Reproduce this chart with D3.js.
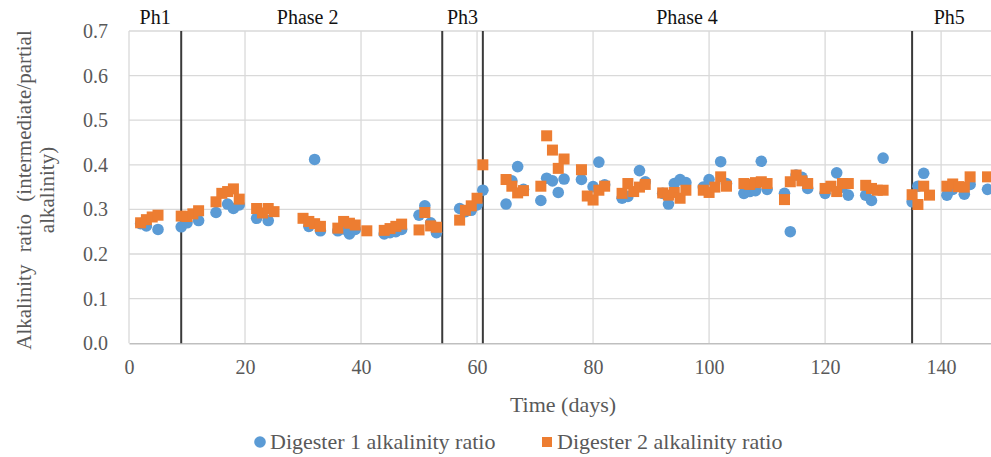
<!DOCTYPE html>
<html>
<head>
<meta charset="utf-8">
<script src="https://cdn.jsdelivr.net/npm/d3@7/dist/d3.min.js"></script>
<style>
  html, body { margin: 0; padding: 0; background: #fff; }
  svg { display: block; font-family: "Liberation Serif", "Times New Roman", serif; }
</style>
</head>
<body>
<svg id="chart" width="991" height="457"></svg>
<script>
// Digester 1 (circles)
const d1Days = [2, 3, 5, 9, 10, 12, 15, 17, 18, 19, 22, 24, 31, 32, 33, 36, 37, 38, 39,
  44, 45, 46, 47, 50, 51, 52, 53, 57, 58, 59, 60, 61, 65, 66, 67, 68, 71, 72, 73, 74, 75,
  78, 80, 81, 82, 85, 86, 88, 89, 92, 93, 94, 95, 96, 99, 100, 102, 103, 106, 107, 108,
  109, 110, 113, 114, 115, 116, 117, 120, 122, 123, 124, 127, 128, 130, 135, 136, 137,
  141, 142, 144, 145, 148];
const d1Ratio = [0.268, 0.263, 0.255, 0.261, 0.270, 0.275, 0.293, 0.312, 0.302, 0.310,
  0.280, 0.275, 0.262, 0.412, 0.252, 0.252, 0.256, 0.245, 0.255, 0.245, 0.248, 0.250,
  0.255, 0.287, 0.308, 0.270, 0.248, 0.302, 0.295, 0.298, 0.310, 0.343, 0.312, 0.364,
  0.396, 0.345, 0.320, 0.370, 0.364, 0.338, 0.368, 0.367, 0.351, 0.406, 0.355, 0.325,
  0.329, 0.387, 0.362, 0.336, 0.312, 0.358, 0.367, 0.360, 0.350, 0.367, 0.407, 0.358,
  0.336, 0.340, 0.342, 0.408, 0.345, 0.336, 0.250, 0.377, 0.372, 0.347, 0.336, 0.382,
  0.350, 0.332, 0.332, 0.320, 0.415, 0.317, 0.352, 0.381, 0.332, 0.345, 0.334, 0.356,
  0.345];

// Digester 2 (squares)
const d2Days = [2, 3, 4, 5, 9, 10, 11, 12, 15, 16, 17, 18, 19, 22, 23, 24, 25, 30, 31, 32,
  33, 36, 37, 38, 39, 41, 44, 45, 46, 47, 50, 51, 52, 53, 57, 58, 59, 60, 61, 65, 66, 67,
  68, 71, 72, 73, 74, 75, 78, 79, 80, 81, 82, 85, 86, 87, 88, 89, 92, 93, 94, 95, 96, 99,
  100, 101, 102, 103, 106, 107, 108, 109, 110, 113, 114, 115, 116, 117, 120, 121, 122,
  123, 124, 127, 128, 129, 130, 135, 136, 137, 138, 141, 142, 143, 144, 145, 148];
const d2Ratio = [0.270, 0.277, 0.283, 0.287, 0.285, 0.284, 0.290, 0.297, 0.317, 0.336,
  0.340, 0.346, 0.323, 0.302, 0.292, 0.302, 0.295, 0.280, 0.273, 0.268, 0.262, 0.258,
  0.273, 0.269, 0.265, 0.252, 0.253, 0.257, 0.262, 0.267, 0.254, 0.293, 0.263, 0.260,
  0.276, 0.298, 0.308, 0.325, 0.400, 0.367, 0.352, 0.337, 0.342, 0.352, 0.465, 0.433,
  0.392, 0.413, 0.389, 0.330, 0.321, 0.343, 0.352, 0.336, 0.358, 0.340, 0.350, 0.356,
  0.337, 0.332, 0.338, 0.325, 0.343, 0.343, 0.338, 0.350, 0.373, 0.352, 0.358, 0.356,
  0.360, 0.362, 0.358, 0.322, 0.362, 0.377, 0.364, 0.358, 0.347, 0.352, 0.340, 0.358,
  0.358, 0.354, 0.347, 0.343, 0.343, 0.333, 0.311, 0.352, 0.332, 0.352, 0.357, 0.351,
  0.350, 0.373, 0.373];

// Phase boundaries and labels
const phaseBounds = [9, 54, 61, 135];
const phaseNames = ["Ph1", "Phase 2", "Ph3", "Phase 4", "Ph5"];
const phaseLabelDays = [4.5, 30.8, 57.5, 96.2, 141.4];

const xTicks = [0, 20, 40, 60, 80, 100, 120, 140];
const yTicks = [0, 0.1, 0.2, 0.3, 0.4, 0.5, 0.6, 0.7];

const seriesNames = ["Digester 1 alkalinity ratio", "Digester 2 alkalinity ratio"];
const colors = ["#5B9BD5", "#ED7D31"];

const svg = d3.select("#chart");
const W = 991, H = 457;
const plotLeft = 129, plotTop = 31, plotBottom = 343.2;

const x = d3.scaleLinear().domain([0, 148.6]).range([plotLeft, W]);
const y = d3.scaleLinear().domain([0, 0.7]).range([plotBottom, plotTop]);

svg.append("rect").attr("width", W).attr("height", H).attr("fill", "#fff");

// gridlines
const grid = svg.append("g");
grid.selectAll("line.h").data(yTicks.filter(d => d > 0)).join("line")
  .attr("class", "h")
  .attr("x1", plotLeft).attr("x2", W)
  .attr("y1", d => y(d)).attr("y2", d => y(d))
  .attr("stroke", "#d9d9d9").attr("stroke-width", 1.3);
grid.selectAll("line.v").data(xTicks).join("line")
  .attr("class", "v")
  .attr("x1", d => x(d)).attr("x2", d => x(d))
  .attr("y1", plotTop).attr("y2", plotBottom)
  .attr("stroke", "#d9d9d9").attr("stroke-width", 1.3);

// x axis
const xAxis = svg.append("g")
  .attr("transform", `translate(0,${plotBottom})`)
  .call(d3.axisBottom(x).tickValues(xTicks).tickSize(0).tickPadding(17).tickFormat(d3.format("d")));
xAxis.select(".domain").attr("stroke", "#bfbfbf").attr("stroke-width", 1.5);
xAxis.selectAll("text").attr("font-size", 20).attr("fill", "#595959")
  .attr("font-family", "Liberation Serif, serif");

// y axis
const yAxis = svg.append("g")
  .attr("transform", `translate(${plotLeft},0)`)
  .call(d3.axisLeft(y).tickValues(yTicks).tickSize(0).tickPadding(21).tickFormat(d3.format(".1f")));
yAxis.select(".domain").remove();
yAxis.selectAll("text").attr("font-size", 20).attr("fill", "#595959")
  .attr("font-family", "Liberation Serif, serif");

// phase boundaries
svg.append("g").selectAll("line").data(phaseBounds).join("line")
  .attr("x1", d => x(d)).attr("x2", d => x(d))
  .attr("y1", plotTop).attr("y2", plotBottom)
  .attr("stroke", "#3a3a3a").attr("stroke-width", 2);

svg.append("g").selectAll("text").data(phaseNames).join("text")
  .attr("x", (d, i) => x(phaseLabelDays[i]))
  .attr("y", 24)
  .attr("text-anchor", "middle")
  .attr("font-size", 20)
  .attr("fill", "#111")
  .text(d => d);

// series 1: circles
const s1 = d1Days.map((d, i) => ({ day: d, v: d1Ratio[i] }));
svg.append("g").selectAll("circle").data(s1).join("circle")
  .attr("cx", d => x(d.day)).attr("cy", d => y(d.v))
  .attr("r", 5.8).attr("fill", colors[0]);

// series 2: squares
const s2 = d2Days.map((d, i) => ({ day: d, v: d2Ratio[i] }));
const sq = 11;
svg.append("g").selectAll("rect").data(s2).join("rect")
  .attr("x", d => x(d.day) - sq / 2).attr("y", d => y(d.v) - sq / 2)
  .attr("width", sq).attr("height", sq).attr("fill", colors[1]);

// axis titles
const yTitle = svg.append("text")
  .attr("transform", `translate(31,190) rotate(-90)`)
  .attr("text-anchor", "middle")
  .attr("font-size", 21)
  .attr("fill", "#595959");
yTitle.append("tspan").attr("x", 0).attr("dy", 0)
  .attr("word-spacing", 7)
  .text("Alkalinity ratio (intermediate/partial");
yTitle.append("tspan").attr("x", 0).attr("dy", 23)
  .text("alkalinity)");

svg.append("text")
  .attr("x", 563).attr("y", 412)
  .attr("text-anchor", "middle")
  .attr("font-size", 22)
  .attr("fill", "#595959")
  .text("Time (days)");

// legend
const legend = svg.append("g");
legend.append("circle").attr("cx", 260).attr("cy", 442).attr("r", 5.8).attr("fill", colors[0]);
legend.append("text").attr("x", 270).attr("y", 449).attr("font-size", 22)
  .attr("fill", "#595959").text(seriesNames[0]);
legend.append("rect").attr("x", 542).attr("y", 437).attr("width", 10).attr("height", 10)
  .attr("fill", colors[1]);
legend.append("text").attr("x", 557).attr("y", 449).attr("font-size", 22)
  .attr("fill", "#595959").text(seriesNames[1]);
</script>
</body>
</html>
